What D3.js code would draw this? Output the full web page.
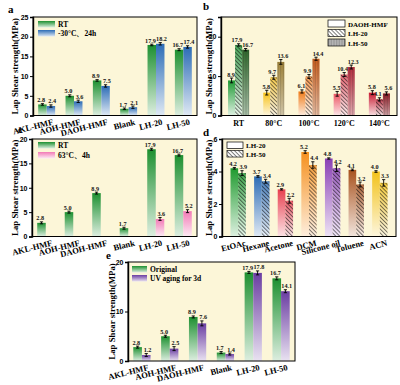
<!DOCTYPE html>
<html><head><meta charset="utf-8">
<script src="https://cdn.jsdelivr.net/npm/d3@7"></script>
<style>
body{margin:0;background:#fff;}
svg{display:block;font-family:"Liberation Serif","Times New Roman",serif;font-weight:bold;}
</style>
</head><body><svg id="chart" width="400" height="385"></svg>
<script>
// ---------------- DATA ----------------
const catsA = ["AKL-HMF","AOH-HMF","DAOH-HMF","Blank","LH-20","LH-50"];
const aRT = [2.8,5.0,8.9,1.7,17.9,16.7];
const aRTErr = [0.2,0.25,0.2,0.2,0.2,0.25];
const aCold = [2.4,3.6,7.5,2.1,18.2,17.4];
const aColdErr = [0.3,0.3,0.3,0.3,0.3,0.3];
const aTicks = [0,5,10,15,20,25];
const aLegend = ["RT","-30°C、24h"];

const catsB = ["RT","80°C","100°C","120°C","140°C"];
const bDAOH = [8.9,5.8,6.1,5.5,5.8];
const bDAOHErr = [0.6,0.6,0.4,0.6,0.5];
const bLH20 = [17.9,9.7,9.9,10.4,4.1];
const bLH20Err = [0.3,0.5,0.5,0.5,0.4];
const bLH50 = [16.7,13.6,14.4,12.3,5.6];
const bLH50Err = [0.3,0.6,0.4,0.5,0.4];
const bTicks = [0,10,20];
const bLegend = ["DAOH-HMF","LH-20","LH-50"];

const catsC = ["AKL-HMF","AOH-HMF","DAOH-HMF","Blank","LH-20","LH-50"];
const cRT = [2.8,5.0,8.9,1.7,17.9,16.7];
const cRTErr = [0.2,0.2,0.2,0.2,0.2,0.2];
const cHot = [null,null,null,null,3.6,5.2];
const cHotErr = [null,null,null,null,0.3,0.3];
const cTicks = [0,5,10,15,20];
const cLegend = ["RT","63°C、4h"];

const catsD = ["EtOAc","Hexane","Acetone","DCM","Silicone oil","Toluene","ACN"];
const dLH20 = [4.2,3.7,2.9,5.2,4.8,4.1,4.0];
const dLH20Err = [0.05,0.05,0.04,0.08,0.04,0.05,0.05];
const dLH50 = [3.9,3.4,2.2,4.4,4.2,3.2,3.3];
const dLH50Err = [0.15,0.12,0.15,0.2,0.2,0.15,0.2];
const dTicks = [0,2,4,6];
const dLegend = ["LH-20","LH-50"];

const catsE = ["AKL-HMF","AOH-HMF","DAOH-HMF","Blank","LH-20","LH-50"];
const eOrig = [2.8,5.0,8.9,1.7,17.9,16.7];
const eOrigErr = [0.2,0.2,0.2,0.2,0.2,0.3];
const eUV = [1.2,2.5,7.6,1.4,17.8,14.1];
const eUVErr = [0.3,0.4,0.5,0.2,0.4,0.3];
const eTicks = [0,10,20];
const eLegend = ["Original","UV aging for 3d"];

// ---------------- STYLE ----------------
const GREEN="#1d9030", BLUE="#2c6cb6", PINK="#f27ab6", PURPLE="#6a3da2";
const BG="#fcf6d8";
const bColors = [
  ["#1f9a34","#28963a","#2f6a2c"],
  ["#f6c21a","#f2be2a","#a88a3c"],
  ["#f07c1a","#f08430","#cc5e1c"],
  ["#ec5664","#e44a5a","#b82c3c"],
  ["#c81a30","#b81a30","#901c26"]
];
const dColors = ["#1f9a2e","#2c6cb5","#e8404f","#f5901e","#8a3fb5","#a8521e","#f2c21a"];

const svg = d3.select("#chart");
const defs = svg.append("defs");
const gcache = {};
function grad(color, fade){
  fade = fade===undefined?0.85:fade;
  const key = color+"_"+fade;
  if(!gcache[key]){
    const id = "g"+Object.keys(gcache).length;
    const g = defs.append("linearGradient").attr("id",id).attr("x1",0).attr("y1",0).attr("x2",0).attr("y2",1);
    g.append("stop").attr("offset","0%").attr("stop-color",color);
    g.append("stop").attr("offset","100%").attr("stop-color",d3.interpolateRgb(color,"#ffffff")(fade));
    gcache[key]=id;
  }
  return "url(#"+gcache[key]+")";
}
const hp = defs.append("pattern").attr("id","hatch").attr("patternUnits","userSpaceOnUse")
  .attr("width",2.8).attr("height",2.8).attr("patternTransform","rotate(-45)");
hp.append("line").attr("x1",0.5).attr("y1",0).attr("x2",0.5).attr("y2",2.8).attr("stroke","#222").attr("stroke-width",0.8).attr("stroke-opacity",0.75);
hp.append("line").attr("x1",1.9).attr("y1",0).attr("x2",1.9).attr("y2",2.8).attr("stroke","#fff").attr("stroke-width",0.6).attr("stroke-opacity",0.5);
const tp = defs.append("pattern").attr("id","tex").attr("patternUnits","userSpaceOnUse")
  .attr("width",1.6).attr("height",1.6);
tp.append("line").attr("x1",0.4).attr("y1",0).attr("x2",0.4).attr("y2",1.6).attr("stroke","#222").attr("stroke-width",0.5).attr("stroke-opacity",0.35);

function panel(o){
  const g = svg.append("g");
  const xg = d3.scaleBand().domain(o.cats).range([o.x0,o.x1]).paddingInner(o.pi).paddingOuter(o.po);
  const xs = d3.scaleBand().domain(d3.range(o.series.length)).range([0,xg.bandwidth()]);
  const y = d3.scaleLinear().domain([0,o.ymax]).range([o.y1,o.y0]);
  const nud = o.series.length===2 ? [-1.3,1.3] : [-0.5,-1.6,2.0];
  g.append("rect").attr("x",o.x0).attr("y",o.y0).attr("width",o.x1-o.x0).attr("height",o.y1-o.y0).attr("fill",BG);
  o.series.forEach((s,si)=>{
    o.cats.forEach((c,i)=>{
      const v = s.vals[i]; if(v==null) return;
      const bx = xg(c)+xs(si), bw = xs.bandwidth();
      g.append("rect").attr("x",bx).attr("y",y(v)).attr("width",bw).attr("height",y(0)-y(v))
        .attr("fill",grad(s.color(i), s.fade));
      if(s.pattern){
        g.append("rect").attr("x",bx).attr("y",y(v)).attr("width",bw).attr("height",y(0)-y(v))
          .attr("fill","url(#"+s.pattern+")");
      }
      const e = s.errs[i]||0, cx = bx+bw/2;
      g.append("line").attr("x1",cx).attr("x2",cx).attr("y1",y(v-e)).attr("y2",y(v+e)).attr("stroke","#000").attr("stroke-width",0.9);
      [v-e,v+e].forEach(t=>g.append("line").attr("x1",cx-1.6).attr("x2",cx+1.6).attr("y1",y(t)).attr("y2",y(t)).attr("stroke","#000").attr("stroke-width",0.9));
      g.append("text").attr("x",cx+nud[si]).attr("y",y(v+e)-1.5).attr("text-anchor","middle")
        .attr("font-size",6.2).attr("fill","#111").text(d3.format(".1f")(v));
    });
  });
  g.append("rect").attr("x",o.x0).attr("y",o.y0).attr("width",o.x1-o.x0).attr("height",o.y1-o.y0)
    .attr("fill","none").attr("stroke","#000").attr("stroke-width",1);
  const ax = g.append("g").attr("transform","translate("+o.x0+",0)")
    .call(d3.axisLeft(y).tickValues(o.ticks).tickSize(3).tickPadding(1.5).tickFormat(d3.format("d")));
  ax.select(".domain").attr("stroke-width",1.4);
  ax.selectAll("text").attr("font-size",7).attr("font-family","inherit").attr("font-weight","bold");
  o.cats.forEach(c=>{
    const cx = xg(c)+xg.bandwidth()/2;
    if(o.rot){
      g.append("text").attr("text-anchor","end").attr("font-size",o.xfs||8.5)
        .attr("transform","translate("+(cx+o.xoff)+","+(o.y1+o.ly)+") rotate("+o.rot+")").text(c);
    } else {
      g.append("text").attr("text-anchor","middle").attr("font-size",o.xfs||8.5)
        .attr("x",cx).attr("y",o.y1+o.ly).text(c);
    }
  });
  g.append("text").attr("text-anchor","middle").attr("font-size",8.8)
    .attr("transform","translate("+o.tx+","+((o.y0+o.y1)/2)+") rotate(-90)").text("Lap Shear strength(MPa)");
  g.append("text").attr("x",o.lx).attr("y",o.lyy).attr("font-size",11).text(o.letter);
  o.legend.forEach((L,k)=>{
    const ly = o.legY + k*o.legStep;
    g.append("rect").attr("x",o.legX).attr("y",ly).attr("width",o.legW).attr("height",o.legH)
      .attr("fill",L.fill).attr("stroke",L.stroke||"none").attr("stroke-width",0.7);
    if(L.pattern) g.append("rect").attr("x",o.legX).attr("y",ly).attr("width",o.legW).attr("height",o.legH).attr("fill","url(#"+L.pattern+")");
    g.append("text").attr("x",o.legX+o.legW+3).attr("y",ly+o.legH-0.5).attr("font-size",o.legFs||7.5).text(L.label);
  });
}

panel({x0:33,x1:197,y0:17,y1:115.5,cats:catsA,ymax:25,ticks:aTicks,pi:0.38,po:0.19,
  series:[{vals:aRT,errs:aRTErr,color:()=>GREEN},{vals:aCold,errs:aColdErr,color:()=>BLUE}],
  rot:-14,xoff:7,ly:9,tx:18,letter:"a",lx:8,lyy:13,
  legend:[{label:aLegend[0],fill:grad(GREEN)},{label:aLegend[1],fill:grad(BLUE)}],
  legX:38,legY:21,legStep:9,legW:17,legH:6.5});

panel({x0:221,x1:397,y0:17,y1:115.5,cats:catsB,ymax:25,ticks:bTicks,pi:0.4,po:0.2,
  series:[{vals:bDAOH,errs:bDAOHErr,color:i=>bColors[i][0]},
          {vals:bLH20,errs:bLH20Err,color:i=>bColors[i][1],pattern:"hatch"},
          {vals:bLH50,errs:bLH50Err,color:i=>bColors[i][2],pattern:"tex",fade:0.6}],
  rot:0,ly:10,xfs:8,tx:212,letter:"b",lx:203,lyy:10,
  legend:[{label:bLegend[0],fill:"#fff",stroke:"#000"},{label:bLegend[1],fill:"#fff",stroke:"#000",pattern:"hatch"},{label:bLegend[2],fill:"#b8b8b8",stroke:"#000",pattern:"tex"}],
  legX:328,legY:20,legStep:9.5,legW:17,legH:7,legFs:7});

panel({x0:32,x1:197,y0:139,y1:236.5,cats:catsC,ymax:20,ticks:cTicks,pi:0.38,po:0.19,
  series:[{vals:cRT,errs:cRTErr,color:()=>GREEN},{vals:cHot,errs:cHotErr,color:()=>PINK}],
  rot:-14,xoff:7,ly:9,tx:18,letter:"c",lx:18,lyy:133,
  legend:[{label:cLegend[0],fill:grad(GREEN)},{label:cLegend[1],fill:grad(PINK)}],
  legX:38,legY:142,legStep:10,legW:17,legH:6.5});

panel({x0:222,x1:396,y0:139,y1:236.5,cats:catsD,ymax:6,ticks:dTicks,pi:0.35,po:0.36,
  series:[{vals:dLH20,errs:dLH20Err,color:i=>dColors[i]},
          {vals:dLH50,errs:dLH50Err,color:i=>dColors[i],pattern:"hatch"}],
  rot:-14,xoff:8,ly:9,xfs:8.5,tx:212,letter:"d",lx:203,lyy:136,
  legend:[{label:dLegend[0],fill:"#fff",stroke:"#000"},{label:dLegend[1],fill:"#fff",stroke:"#000",pattern:"hatch"}],
  legX:227,legY:142,legStep:8.5,legW:16,legH:6.5,legFs:7});

panel({x0:128,x1:295,y0:262,y1:361,cats:catsE,ymax:20,ticks:eTicks,pi:0.38,po:0.19,
  series:[{vals:eOrig,errs:eOrigErr,color:()=>GREEN},{vals:eUV,errs:eUVErr,color:()=>PURPLE}],
  rot:-14,xoff:7,ly:9,tx:115,letter:"e",lx:106,lyy:259,
  legend:[{label:eLegend[0],fill:grad(GREEN)},{label:eLegend[1],fill:grad(PURPLE)}],
  legX:132,legY:266,legStep:9,legW:15,legH:6.5});
</script>
</body></html>
